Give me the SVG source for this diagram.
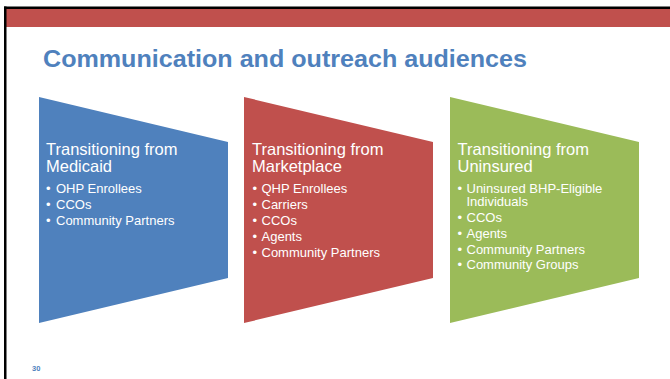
<svg xmlns="http://www.w3.org/2000/svg" width="670" height="379" viewBox="0 0 670 379">
  <style>
    .title { font-family: "Liberation Sans", Arial, sans-serif; font-weight: bold; font-size: 24px; fill: #4F81BD; }
    .head { font-family: "Liberation Sans", Arial, sans-serif; font-size: 16.5px; fill: #FFFFFF; }
    .item { font-family: "Liberation Sans", Arial, sans-serif; font-size: 13px; fill: #FFFFFF; }
    .pnum { font-family: "Liberation Sans", Arial, sans-serif; font-weight: bold; font-size: 7.5px; fill: #4F81BD; }
  </style>
  <rect x="0" y="0" width="670" height="379" fill="#FFFFFF"/>
  <!-- slide frame: top band and left edge -->
  <rect x="5" y="9" width="665" height="18" fill="#C0504D"/>
  <rect x="4" y="6.5" width="666" height="2.5" fill="#000000"/>
  <rect x="4" y="6.5" width="2.5" height="372.5" fill="#000000"/>

  <text class="title" x="43" y="66.5" textLength="484" lengthAdjust="spacingAndGlyphs">Communication and outreach audiences</text>

  <g id="connectors"></g>

  <g id="medicaid">
    <polygon points="39,97 228,142 228,278 39,323" fill="#4F81BD"/>
    <text class="head" x="46" y="155">Transitioning from</text>
    <text class="head" x="46" y="171.5">Medicaid</text>
    <text class="item" x="46" y="192.5">•</text><text class="item" x="56" y="192.5">OHP Enrollees</text>
    <text class="item" x="46" y="208.5">•</text><text class="item" x="56" y="208.5">CCOs</text>
    <text class="item" x="46" y="224.5">•</text><text class="item" x="56" y="224.5">Community Partners</text>
  </g>

  <g id="marketplace">
    <polygon points="244,97 433,142 433,278 244,323" fill="#C0504D"/>
    <text class="head" x="252" y="155">Transitioning from</text>
    <text class="head" x="252" y="171.5">Marketplace</text>
    <text class="item" x="252.5" y="192.5">•</text><text class="item" x="261.5" y="192.5">QHP Enrollees</text>
    <text class="item" x="252.5" y="208.5">•</text><text class="item" x="261.5" y="208.5">Carriers</text>
    <text class="item" x="252.5" y="224.5">•</text><text class="item" x="261.5" y="224.5">CCOs</text>
    <text class="item" x="252.5" y="240.5">•</text><text class="item" x="261.5" y="240.5">Agents</text>
    <text class="item" x="252.5" y="256.5">•</text><text class="item" x="261.5" y="256.5">Community Partners</text>
  </g>

  <g id="uninsured">
    <polygon points="450,97 639,142 639,278 450,323" fill="#9BBB59"/>
    <text class="head" x="457.5" y="155">Transitioning from</text>
    <text class="head" x="457.5" y="171.5">Uninsured</text>
    <text class="item" x="457.5" y="192.5">•</text><text class="item" x="466.5" y="192.5">Uninsured BHP-Eligible</text>
    <text class="item" x="466.5" y="206">Individuals</text>
    <text class="item" x="457.5" y="222">•</text><text class="item" x="466.5" y="222">CCOs</text>
    <text class="item" x="457.5" y="238">•</text><text class="item" x="466.5" y="238">Agents</text>
    <text class="item" x="457.5" y="253.5">•</text><text class="item" x="466.5" y="253.5">Community Partners</text>
    <text class="item" x="457.5" y="269">•</text><text class="item" x="466.5" y="269">Community Groups</text>
  </g>

  <text class="pnum" x="32" y="370.5">30</text>
</svg>
